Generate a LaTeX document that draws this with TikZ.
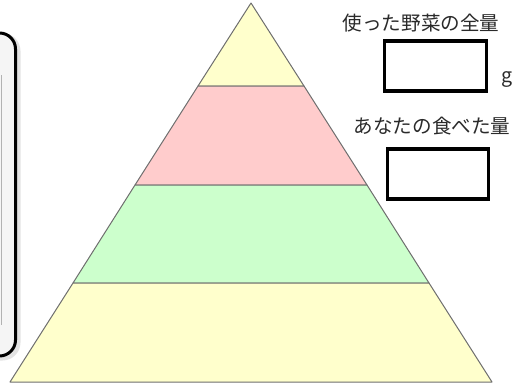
\documentclass[tikz,border=0pt]{standalone}
\usepackage{fontspec}
\newfontfamily\jpfont{Noto Sans CJK JP}
\definecolor{pyellow}{HTML}{FFFFCC}
\definecolor{ppink}{HTML}{FFCCCC}
\definecolor{pgreen}{HTML}{CCFFCC}
\definecolor{pline}{HTML}{6E6E6E}
\definecolor{ptext}{HTML}{2A2A2A}
\begin{document}
\begin{tikzpicture}[x=1pt,y=-1pt,
  band/.style={draw=pline,line width=1pt,line join=round},
  answerbox/.style={draw=black,line width=3.6pt,fill=white,inner sep=0pt},
  label/.style={font=\jpfont\fontsize{19.6}{21}\selectfont,text=ptext,inner sep=0pt}]
\useasboundingbox (0,0) rectangle (522,388);
% left panel
\begin{scope}
\clip (0,0) rectangle (522,388);
\draw[line width=4pt,gray!22,rounded corners=16pt] (-40,35) rectangle (18.5,358.5);
\draw[line width=3pt,black,fill=gray!8,rounded corners=16pt] (-40,33) rectangle (15.5,356);
\draw[line width=1pt,gray!60] (1,75) -- (1,325);
\end{scope}
% pyramid
\coordinate (apex) at (251,3);
\coordinate (l1) at (198,86);  \coordinate (r1) at (304,86);
\coordinate (l2) at (135,185); \coordinate (r2) at (367,185);
\coordinate (l3) at (73,283);  \coordinate (r3) at (429,283);
\coordinate (bl) at (10,382);  \coordinate (br) at (492,382);
\draw[band,fill=pyellow] (apex) -- (r1) -- (l1) -- cycle;
\draw[band,fill=ppink] (l1) -- (r1) -- (r2) -- (l2) -- cycle;
\draw[band,fill=pgreen] (l2) -- (r2) -- (r3) -- (l3) -- cycle;
\draw[band,fill=pyellow] (l3) -- (r3) -- (br) -- (bl) -- cycle;
% labels and boxes
\node[label] (t1) at (421,23) {使った野菜の全量};
\node[answerbox,minimum width=102pt,minimum height=50pt] (b1) at (435.3,66) {};
\node[label,anchor=west] (g) at (501.5,79) {g};
\node[label] (t2) at (432,126) {あなたの食べた量};
\node[answerbox,minimum width=101pt,minimum height=50pt] (b2) at (438,174) {};
\end{tikzpicture}
\end{document}
